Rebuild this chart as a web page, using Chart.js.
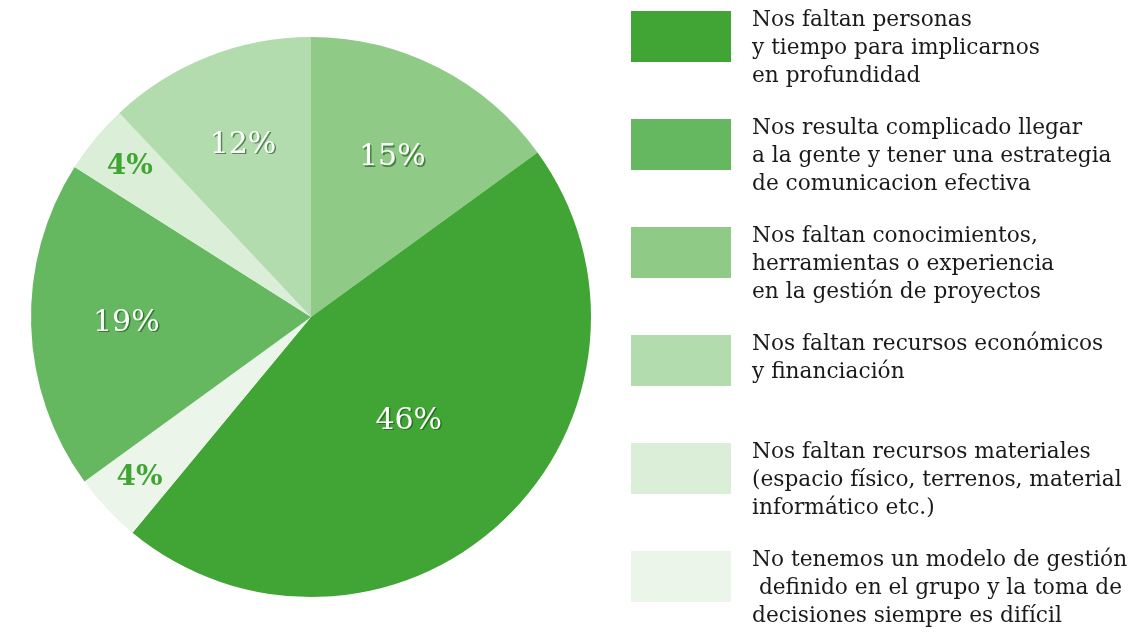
<!DOCTYPE html>
<html>
<head>
<meta charset="utf-8">
<script src="https://cdn.jsdelivr.net/npm/chart.js@4"></script>
<style>
  html, body { margin: 0; padding: 0; background: #fff; }
  #wrap { position: relative; width: 1147px; height: 632px; }
  #pie { position: absolute; left: 0; top: 0; }
  .item { position: absolute; left: 631px; }
  .box { position: absolute; left: 0; top: 0; width: 100px; height: 51px; }
  .txt { position: absolute; left: 121px; top: -6px; white-space: nowrap;
         font-family: "DejaVu Serif", serif; font-size: 21.7px; line-height: 28px; color: #1a1a1a; }
</style>
</head>
<body>
<div id="wrap">
  <canvas id="pie" width="1147" height="632"></canvas>
  <div id="legend"></div>
</div>
<script>
// Slices in drawing order (clockwise from 12 o'clock)
const sliceLabels = ['conocimientos', 'personas', 'modelo', 'comunicacion', 'materiales', 'economicos'];
const sliceValues = [15, 46, 4, 19, 4, 12];
const sliceColors = ['#8fca86', '#41a535', '#ebf5ea', '#66b860', '#dbeed8', '#b3dcae'];
// how far out each percentage sits (fraction of radius)
const labelRadius = [0.64, 0.51, 0.84, 0.66, 0.84, 0.66];

// Legend entries (top to bottom)
const legendKeys = ['personas', 'comunicacion', 'conocimientos', 'economicos', 'materiales', 'modelo'];
const legendTexts = [
    ['Nos faltan personas', 'y tiempo para implicarnos', 'en profundidad'],
    ['Nos resulta complicado llegar', 'a la gente y tener una estrategia', 'de comunicacion efectiva'],
    ['Nos faltan conocimientos,', 'herramientas o experiencia', 'en la gestión de proyectos'],
    ['Nos faltan recursos económicos', 'y financiación'],
    ['Nos faltan recursos materiales', '(espacio físico, terrenos, material', 'informático etc.)'],
    ['No tenemos un modelo de gestión', '\u00a0definido en el grupo y la toma de', 'decisiones siempre es difícil']
];

// Build the legend
const legend = document.getElementById('legend');
legendKeys.forEach((key, i) => {
    const idx = sliceLabels.indexOf(key);
    const item = document.createElement('div');
    item.className = 'item';
    item.style.top = (11 + i * 108) + 'px';
    item.innerHTML = `<div class="box" style="background:${sliceColors[idx]}"></div>` +
        `<div class="txt">${legendTexts[i].join('<br>')}</div>`;
    legend.appendChild(item);
});

// Draw the percentage labels on the slices
const sliceLabelPlugin = {
    id: 'sliceLabels',
    afterDatasetsDraw(chart) {
        const ctx = chart.ctx;
        const meta = chart.getDatasetMeta(0);
        meta.data.forEach((arc, i) => {
            const v = sliceValues[i];
            const small = v < 10;
            const mid = (arc.startAngle + arc.endAngle) / 2;
            const r = arc.outerRadius * labelRadius[i];
            const x = arc.x + Math.cos(mid) * r;
            const y = arc.y + Math.sin(mid) * r;
            ctx.save();
            ctx.textAlign = 'center';
            ctx.textBaseline = 'middle';
            if (small) {
                ctx.font = 'bold 28px "DejaVu Serif"';
                ctx.fillStyle = '#41a535';
            } else {
                ctx.font = '30px "DejaVu Serif"';
                ctx.shadowColor = 'rgba(20,80,20,0.6)';
                ctx.shadowOffsetX = 1.5;
                ctx.shadowOffsetY = 1.5;
                ctx.fillStyle = '#fff';
            }
            ctx.fillText(v + '%', x, y);
            ctx.restore();
        });
    }
};

new Chart(document.getElementById('pie'), {
    type: 'pie',
    data: {
        labels: sliceLabels,
        datasets: [{
            data: sliceValues,
            backgroundColor: sliceColors,
            borderWidth: 0
        }]
    },
    options: {
        responsive: false,
        animation: false,
        layout: { padding: { left: 31, right: 556, top: 37, bottom: 35 } },
        plugins: {
            legend: { display: false },
            tooltip: { enabled: false }
        }
    },
    plugins: [sliceLabelPlugin]
});
</script>
</body>
</html>
